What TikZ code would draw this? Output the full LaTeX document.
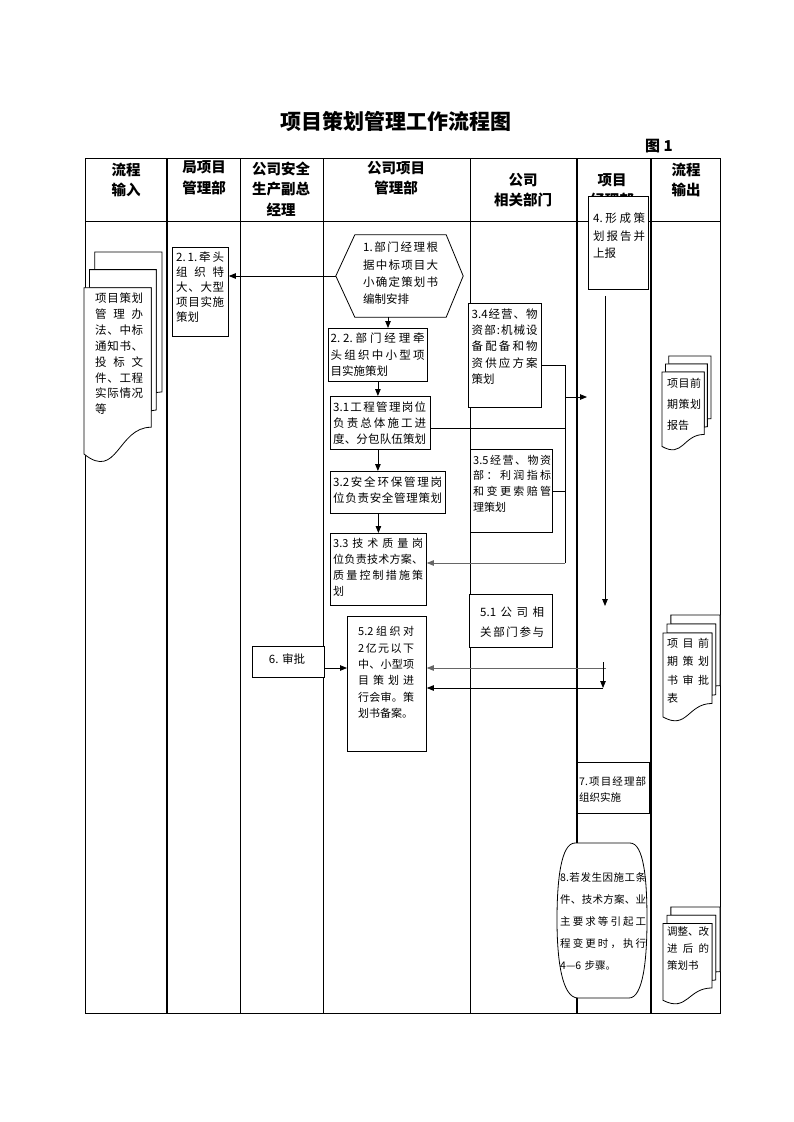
\documentclass[tikz,border=0pt]{standalone}
\usepackage{fontspec}
\setmainfont{Noto Sans CJK SC}
\usetikzlibrary{arrows.meta}
\makeatletter
\def\jz@loop#1#2\jz@end{#1\ifx\relax#2\relax\else\hfill\jz@loop#2\jz@end\fi}
\newcommand\jz[1]{\makebox[\linewidth][s]{\jz@loop#1\jz@end}}
\makeatother
\newcommand\mdoc[4]{%
\begin{scope}[shift={(#1,#2)}, x=#3pt, y=-#4pt]
 \draw[docline] (0.1376,0.0840) -- (0.1376,0) -- (1,0) -- (1,0.6663) .. controls (0.9630,0.6663) and (0.9259,0.6698) .. (0.9259,0.6698) -- (0.9259,0.0840) -- cycle;
 \draw[docline] (0.0709,0.1701) -- (0.0709,0.0840) -- (0.9259,0.0840) -- (0.9259,0.7524) .. controls (0.8934,0.7524) and (0.8609,0.7570) .. (0.8609,0.7570) -- (0.8609,0.1701) -- cycle;
 \draw[docline] (0,0.9621) .. controls (0.4305,1.0899) and (0.4305,0.8344) .. (0.8609,0.8344) -- (0.8609,0.1701) -- (0,0.1701) -- cycle;
\end{scope}}
\begin{document}
\begin{tikzpicture}[x=1pt,y=-1pt,
  thinrule/.style={line width=0.8pt},
  thickrule/.style={line width=1.4pt},
  docline/.style={line width=0.8pt, fill=white},
  box/.style={draw, line width=0.8pt, fill=white, inner sep=0, anchor=north west},
  txt/.style={anchor=north west, inner sep=0, align=left},
  hd/.style={font=\bfseries\fontsize{14.5}{20.5}\selectfont, align=center, inner sep=0},
  ln/.style={line width=0.8pt},
  arr/.style={line width=0.8pt, -{Triangle[length=7pt,width=5.5pt]}},
  grayln/.style={draw=black!60}]
\useasboundingbox (0,0) rectangle (793,1122);
\fill[white] (0,0) rectangle (793,1122);

% title
\node[font=\bfseries\fontsize{21}{24}\selectfont] (title) at (396,121) {项目策划管理工作流程图};
\node[font=\bfseries\fontsize{15}{18}\selectfont] (fig) at (659,146) {图 1};

% table
\draw[thinrule] (85,158) rectangle (720,1013);
\draw[thinrule] (85,221) -- (720,221);
\draw[thickrule] (167,158) -- (167,1013);
\draw[thinrule] (240,158) -- (240,1013);
\draw[thinrule] (323,158) -- (323,1013);
\draw[thinrule] (470,158) -- (470,1013);
\draw[thickrule] (577,158) -- (577,1013);
\draw[thickrule] (651,158) -- (651,1013);

% headers
\node[hd] (h1) at (126,180) {流程\\输入};
\node[hd] (h2) at (204,178) {局项目\\管理部};
\node[hd] (h3) at (281,189) {公司安全\\生产副总\\经理};
\node[hd] (h4) at (396,178) {公司项目\\管理部};
\node[hd] (h5) at (523,190) {公司\\相关部门};
\node[hd] (h6) at (612,190) {项目\\经理部};
\node[hd] (h7) at (686,180) {流程\\输出};

% input document
\mdoc{84}{252}{78}{210}
\node[txt, text width=48pt, font=\fontsize{11.5}{15.9}\selectfont] (tin) at (95,292.6)
 {\jz{项目策划}\\\jz{管理办}\\\jz{法、中标}\\\jz{通知书、}\\\jz{投标文}\\\jz{件、工程}\\\jz{实际情况}\\等};

% output documents
\mdoc{662}{356}{49}{94}
\node[txt, text width=34pt, font=\fontsize{11}{21}\selectfont] (to1) at (667,378)
 {\jz{项目前}\\\jz{期策划}\\报告};
\mdoc{663}{615}{57}{106}
\node[txt, text width=42pt, font=\fontsize{11}{18.3}\selectfont] (to2) at (667,638)
 {\jz{项目前}\\\jz{期策划}\\\jz{书审批}\\表};
\mdoc{663}{907}{57}{97}
\node[txt, text width=42pt, font=\fontsize{10.5}{16.7}\selectfont] (to3) at (667,926.8)
 {\jz{调整、改}\\\jz{进后的}\\策划书};

% boxes
\node[box, minimum width=56, minimum height=89] (b21) at (172,247) {};
\node[txt, text width=48pt, font=\fontsize{11.5}{15}\selectfont] (t21) at (176,251.6)
 {\jz{{2.}{1.}牵头}\\\jz{组织特}\\\jz{大、大型}\\\jz{项目实施}\\策划};

\node[minimum width=127, minimum height=82, inner sep=0] (hex) at (399.5,276) {};
\draw[line width=0.8pt, fill=white] (hex.west) -- ([xshift=19]hex.north west) -- ([xshift=-17]hex.north east)
  -- (hex.east) -- ([xshift=-17]hex.south east) -- ([xshift=19]hex.south west) -- cycle;
\node[txt, text width=75pt, font=\fontsize{11.5}{17.3}\selectfont] (thex) at (363,242)
 {\jz{{1.}部门经理根}\\\jz{据中标项目大}\\\jz{小确定策划书}\\编制安排};

\node[box, minimum width=99, minimum height=53] (b22) at (328,328) {};
\node[txt, text width=94pt, font=\fontsize{11.5}{16.2}\selectfont] (t22) at (330.5,333)
 {\jz{{2.}{2.}部门经理牵}\\\jz{头组织中小型项}\\目实施策划};

\node[box, minimum width=100, minimum height=53] (b31) at (330,396) {};
\node[txt, text width=93pt, font=\fontsize{11.5}{16.3}\selectfont] (t31) at (333,401.3)
 {\jz{{3.1}工程管理岗位}\\\jz{负责总体施工进}\\\jz{度、分包队伍策划}};

\node[box, minimum width=115, minimum height=42] (b32) at (330,471) {};
\node[txt, text width=109pt, font=\fontsize{11.5}{15.5}\selectfont] (t32) at (333,476.6)
 {\jz{{3.2}安全环保管理岗}\\\jz{位负责安全管理策划}};

\node[box, minimum width=96, minimum height=72] (b33) at (330,533) {};
\node[txt, text width=90pt, font=\fontsize{11}{15.9}\selectfont] (t33) at (333,538)
 {\jz{{3.3}技术质量岗}\\\jz{位负责技术方案、}\\\jz{质量控制措施策}\\划};

\node[box, minimum width=73, minimum height=104] (b34) at (468,303) {};
\node[txt, text width=66pt, font=\fontsize{11.5}{16.2}\selectfont] (t34) at (471.5,308.6)
 {\jz{{3.4}经营、物}\\\jz{资部{:}机械设}\\\jz{备配备和物}\\\jz{资供应方案}\\策划};

\node[box, minimum width=82, minimum height=83] (b35) at (470,449) {};
\node[txt, text width=78pt, font=\fontsize{11}{15.6}\selectfont] (t35) at (473,454.8)
 {\jz{{3.5}经营、物资}\\\jz{部：利润指标}\\\jz{和变更索赔管}\\理策划};

\node[box, minimum width=83, minimum height=53] (b51) at (469,594) {};
\node[txt, text width=64pt, font=\fontsize{11.5}{20}\selectfont] (t51) at (480,606.5)
 {\jz{{5.1}公司相}\\\jz{关部门参与}};

\node[box, minimum width=79, minimum height=135] (b52) at (347,616) {};
\node[txt, text width=56pt, font=\fontsize{11}{16.3}\selectfont] (t52) at (358,626.5)
 {\jz{{5.2}组织对}\\\jz{{2}亿元以下}\\\jz{中、小型项}\\\jz{目策划进}\\\jz{行会审。策}\\划书备案。};

\node[box, minimum width=72, minimum height=31] (b6) at (252,646) {};
\node[font=\fontsize{11.5}{14}\selectfont, inner sep=0] (t6) at (287,659) {6. 审批};

\node[box, minimum width=72, minimum height=51] (b7) at (577,762) {};
\node[txt, text width=67pt, font=\fontsize{10.5}{15.5}\selectfont] (t7) at (579,776.8)
 {\jz{{7.}项目经理部}\\组织实施};

% box 8
\draw[line width=0.8pt, fill=white] (600,843) -- (630,843) .. controls (644,843) and (647,880) .. (647,920)
  .. controls (647,960) and (643,998) .. (629,998) -- (578,998) .. controls (562,998) and (557,960) .. (557,920)
  .. controls (557,880) and (561,843) .. (575,843) -- cycle;
\node[txt, text width=86pt, font=\fontsize{10.5}{21.8}\selectfont] (t8) at (560,872.8)
 {\jz{{8.}若发生因施工条}\\\jz{件、技术方案、业}\\\jz{主要求等引起工}\\\jz{程变更时，执行}\\4—6 步骤。};

% box 4 (over the header)
\node[box, minimum width=60, minimum height=93] (b4) at (588,196) {};
\node[txt, text width=52pt, font=\fontsize{11.5}{17.5}\selectfont] (t4) at (593,213)
 {\jz{{4.}形成策}\\\jz{划报告并}\\上报};

% connectors
\draw[arr] (hex.west) -- (hex.west -| b21.east);
\draw[arr] ([xshift=-11.5]hex.south) -- ([xshift=-11.5]hex.south |- b22.north);
\draw[arr] (b22.south) -- (b22.south |- b31.north);
\draw[arr] (b22.south |- b31.south) -- (b22.south |- b32.north);
\draw[arr] (b33.north |- b32.south) -- (b33.north);

\coordinate (c1) at (565,365);
\coordinate (c2) at (565,563);
\coordinate (c3) at (565,397);
\coordinate (c4) at (587,397);
\coordinate (c5) at (565,428);
\draw[ln] (b34.east |- c1) -- (c1) -- (c2);
\draw[ln] (b31.east |- c5) -- (c5);
\draw[ln] (b35.east) -- (b35.east -| c1);
\draw[arr, grayln] (c2) -- (c2 -| b33.east);
\draw[arr] (c3) -- (c4);

\coordinate (d2) at (605,606);
\draw[arr, shorten <=6pt] (b4.south -| d2) -- (d2);

\coordinate (e1) at (606,668);
\coordinate (e2) at (603,688);
\coordinate (e0) at (603,662);
\draw[arr, grayln] (e1) -- (e1 -| b52.east);
\draw[arr] (e2) -- (e2 -| b52.east);
\draw[arr] (e0) -- (e2);
\draw[arr] (b6.east |- e1) -- (b52.west |- e1);
\end{tikzpicture}
\end{document}
